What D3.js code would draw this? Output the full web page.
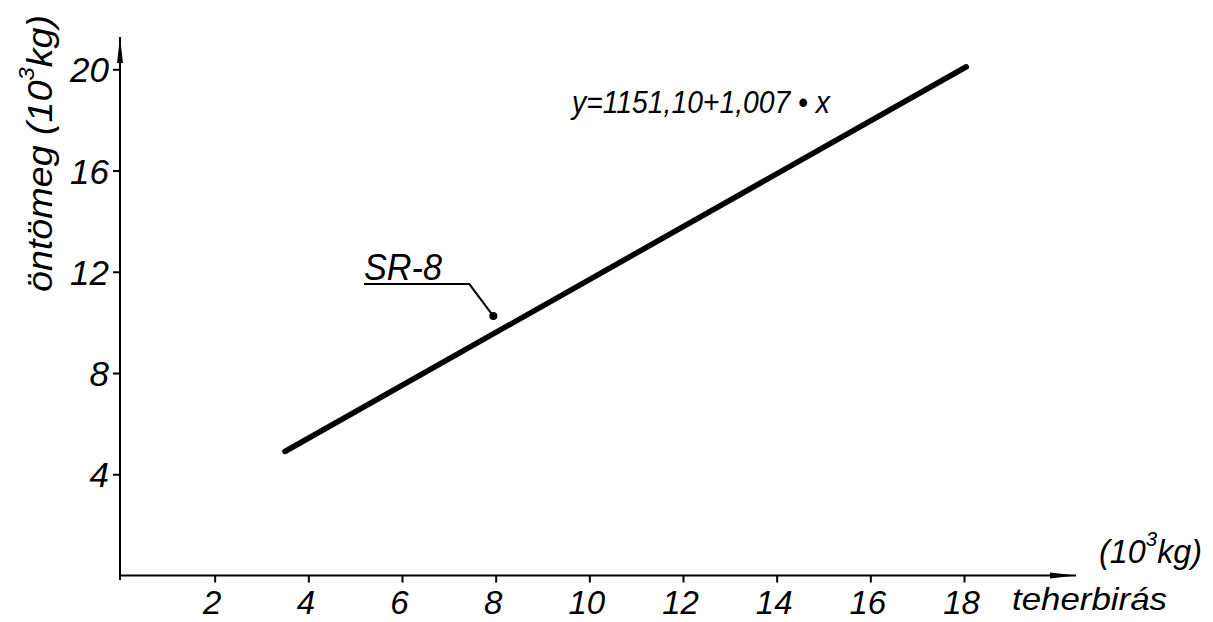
<!DOCTYPE html>
<html>
<head>
<meta charset="utf-8">
<script src="https://cdn.jsdelivr.net/npm/d3@7"></script>
<style>
  body { margin: 0; background: #fff; }
  text { font-family: "Liberation Sans", Arial, sans-serif; font-style: italic; fill: #000; }
</style>
</head>
<body>
<script>
var width = 1213;
var height = 622;

// data
var xTicks = [2, 4, 6, 8, 10, 12, 14, 16, 18];
var yTicks = [4, 8, 12, 16, 20];
var lineX = [3.5, 18.05];
var lineY = [4.9, 20.1];
var pointSR8 = [7.95, 10.25];
var pointLabel = "SR-8";
var equation = "y=1151,10+1,007 • x";

var xScale = d3.scaleLinear()
               .domain([0, 18])
               .range([121, 964]);

var yScale = d3.scaleLinear()
               .domain([0, 20])
               .range([575.5, 69.3]);

var svg = d3.select("body").append("svg")
            .attr("width", width)
            .attr("height", height);

var defs = svg.append("defs");
defs.append("marker")
    .attr("id", "arrow")
    .attr("viewBox", "0 0 26 8")
    .attr("refX", 26).attr("refY", 4)
    .attr("markerWidth", 26).attr("markerHeight", 8)
    .attr("markerUnits", "userSpaceOnUse")
    .attr("orient", "auto")
  .append("path")
    .attr("d", "M0,1 L26,4 L0,7 Z")
    .attr("fill", "#000");

// axes lines with arrows
svg.append("line")
   .attr("x1", 121).attr("y1", 575.5)
   .attr("x2", 1076).attr("y2", 575.5)
   .attr("stroke", "#000").attr("stroke-width", 2)
   .attr("marker-end", "url(#arrow)");

svg.append("line")
   .attr("x1", 120).attr("y1", 580)
   .attr("x2", 120).attr("y2", 37)
   .attr("stroke", "#000").attr("stroke-width", 2)
   .attr("marker-end", "url(#arrow)");

var xAxis = d3.axisBottom(xScale)
              .tickValues(xTicks)
              .tickSize(7)
              .tickSizeOuter(0);

var gx = svg.append("g")
            .attr("transform", "translate(0, 575.5)")
            .call(xAxis);
gx.select(".domain").remove();
gx.selectAll("line").attr("stroke", "#000").attr("stroke-width", 2);
gx.selectAll("text")
  .attr("y", 38).attr("dy", 0).attr("dx", -3)
  .style("font-size", "33px")
  .attr("font-family", null);

var yAxis = d3.axisLeft(yScale)
              .tickValues(yTicks)
              .tickSize(7)
              .tickSizeOuter(0);

var gy = svg.append("g")
            .attr("transform", "translate(120, 0)")
            .call(yAxis);
gy.select(".domain").remove();
gy.selectAll("line").attr("stroke", "#000").attr("stroke-width", 2);
gy.selectAll("text")
  .attr("x", -11).attr("dy", "0.36em")
  .style("font-size", "35px")
  .attr("font-family", null);

// regression line
svg.append("line")
   .attr("x1", xScale(lineX[0])).attr("y1", yScale(lineY[0]))
   .attr("x2", xScale(lineX[1])).attr("y2", yScale(lineY[1]))
   .attr("stroke", "#000").attr("stroke-width", 5.5)
   .attr("stroke-linecap", "round");

// SR-8 point with leader
var px = xScale(pointSR8[0]), py = yScale(pointSR8[1]);
svg.append("circle")
   .attr("cx", px).attr("cy", py).attr("r", 4)
   .attr("fill", "#000");
svg.append("polyline")
   .attr("points", [[px, py], [px - 24, py - 32], [364, py - 32]].join(" "))
   .attr("fill", "none")
   .attr("stroke", "#000").attr("stroke-width", 2);
svg.append("text")
   .attr("x", 364).attr("y", 280)
   .attr("textLength", 78).attr("lengthAdjust", "spacingAndGlyphs")
   .style("font-size", "36px")
   .text(pointLabel);

// equation
svg.append("text")
   .attr("x", 572).attr("y", 113)
   .attr("textLength", 258).attr("lengthAdjust", "spacingAndGlyphs")
   .style("font-size", "32px")
   .text(equation);

// x axis titles
var xUnit = svg.append("text")
   .attr("x", 1099).attr("y", 563)
   .attr("textLength", 103).attr("lengthAdjust", "spacingAndGlyphs")
   .style("font-size", "33px");
xUnit.append("tspan").text("(10");
xUnit.append("tspan").attr("dy", -17).style("font-size", "21px").text("3");
xUnit.append("tspan").attr("dy", 17).text("kg)");

svg.append("text")
   .attr("x", 1012).attr("y", 610)
   .attr("textLength", 155).attr("lengthAdjust", "spacingAndGlyphs")
   .style("font-size", "32px")
   .text("teherbirás");

// y axis title
var yTitle = svg.append("text")
   .attr("transform", "translate(52, 292) rotate(-90)")
   .attr("textLength", 277).attr("lengthAdjust", "spacingAndGlyphs")
   .style("font-size", "35px");
yTitle.append("tspan").text("öntömeg (10");
yTitle.append("tspan").attr("dy", -18).style("font-size", "22px").text("3");
yTitle.append("tspan").attr("dy", 18).text("kg)");
</script>
</body>
</html>
